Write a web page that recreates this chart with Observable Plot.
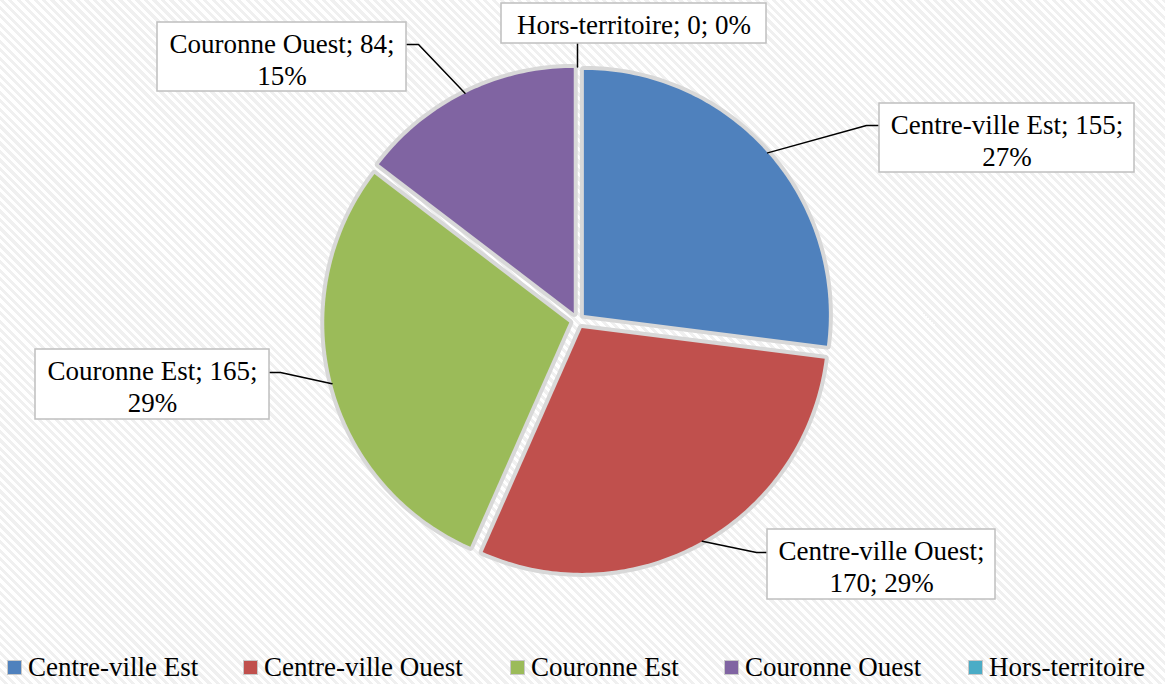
<!DOCTYPE html>
<html><head><meta charset="utf-8">
<script src="https://cdn.jsdelivr.net/npm/d3@7"></script>
<script src="https://cdn.jsdelivr.net/npm/@observablehq/plot@0.6"></script>
<style>
html,body{margin:0;padding:0;}
body{width:1165px;height:684px;overflow:hidden;position:relative;
background: repeating-linear-gradient(45deg,#ffffff 0px,#ffffff 3px,#f0f0f0 3px,#f0f0f0 6px);
font-family:"Liberation Serif",serif;}
#chart{position:absolute;left:0;top:0;}
#legend{position:absolute;left:0;top:645px;width:1165px;height:39px;}
.sw{position:absolute;top:15px;width:13px;height:13px;border:1px solid #c8c8c8;box-sizing:content-box;}
.lt{position:absolute;top:9px;font-size:27px;line-height:1;color:#000;white-space:nowrap;}
</style></head><body><div id="chart"></div><div id="legend"></div>
<script>
// ---- data ----
const categories = ["Centre-ville Est", "Centre-ville Ouest", "Couronne Est", "Couronne Ouest", "Hors-territoire"];
const values = [155, 170, 165, 84, 0];
const percentLabels = ["27%", "29%", "29%", "15%", "0%"];
const colors = ["#4F81BD", "#C0504D", "#9BBB59", "#8064A2", "#4BACC6"];

// ---- layout ----
const W = 1165, H = 645;
const pieCenter = [577, 320], radius = 245, explode = 8.5;
const labelLayout = [
  {box: [879, 103, 1134, 172], knee: [866, 125], split: 2},
  {box: [767, 529, 995, 599], knee: [756, 552], split: 1},
  {box: [35, 349, 269, 419], knee: [280, 372], split: 2},
  {box: [157, 22, 406, 91], knee: [418, 44], split: 2},
  {box: [501, 3, 766, 43], knee: null, split: 3}
];
const legendX = [7, 243, 510, 724, 968];

// ---- geometry from values ----
const arcs = d3.pie().sort(null).value(d => d)(values);
const slicePoints = [];
const leaderPoints = [];
const boxes = [];
const labels = [];
arcs.forEach((p, i) => {
  const name = categories[i];
  const mid = (p.startAngle + p.endAngle) / 2;
  const ox = pieCenter[0] + explode * Math.sin(mid);
  const oy = pieCenter[1] - explode * Math.cos(mid);
  const span = p.endAngle - p.startAngle;
  if (span > 0) {
    slicePoints.push({name, x: ox, y: oy});
    const n = Math.max(2, Math.ceil(span / (Math.PI / 180)));
    for (let k = 0; k <= n; k++) {
      const a = p.startAngle + span * k / n;
      slicePoints.push({name, x: ox + radius * Math.sin(a), y: oy - radius * Math.cos(a)});
    }
  }
  const L = labelLayout[i];
  const ax = ox + radius * Math.sin(mid), ay = oy - radius * Math.cos(mid);
  leaderPoints.push({name, x: ax, y: ay});
  if (L.knee) {
    leaderPoints.push({name, x: L.knee[0], y: L.knee[1]});
    const edgeX = L.knee[0] < L.box[0] ? L.box[0] : L.box[2];
    leaderPoints.push({name, x: edgeX, y: L.knee[1]});
  } else {
    leaderPoints.push({name, x: ax, y: L.box[3]});
  }
  boxes.push({name, x1: L.box[0], y1: L.box[1], x2: L.box[2], y2: L.box[3]});
  const parts = [name, String(values[i]), percentLabels[i]];
  let text;
  if (L.split >= 3) text = parts.join("; ");
  else text = parts.slice(0, L.split).join("; ") + ";\n" + parts.slice(L.split).join("; ");
  const nLines = text.split("\n").length;
  labels.push({name, text, x: (L.box[0] + L.box[2]) / 2, y: L.box[1] + 30 + 32 * (nLines - 1)});
});

const chart = Plot.plot({
  width: W, height: H, margin: 0,
  x: {domain: [0, W], range: [0, W], axis: null},
  y: {domain: [0, H], range: [0, H], axis: null},
  color: {domain: categories, range: colors},
  style: {background: "transparent", overflow: "visible"},
  marks: [
    Plot.line(slicePoints, {x: "x", y: "y", z: "name", curve: "linear-closed",
      fill: "#d8d8d8", stroke: "#d8d8d8", strokeWidth: 8, strokeLinejoin: "round"}),
    Plot.line(slicePoints, {x: "x", y: "y", z: "name", curve: "linear-closed",
      fill: "name", stroke: null}),
    Plot.line(leaderPoints, {x: "x", y: "y", z: "name", stroke: "#000", strokeWidth: 1.5}),
    Plot.rect(boxes, {x1: "x1", x2: "x2", y1: "y1", y2: "y2", fill: "#fff", stroke: "#bfbfbf", strokeWidth: 1.5}),
    Plot.text(labels, {x: "x", y: "y", text: "text", lineAnchor: "bottom", lineHeight: 32 / 27,
      fontSize: 27, fontFamily: "Liberation Serif", fill: "#000", textAnchor: "middle"})
  ]
});
document.getElementById("chart").appendChild(chart);

const legend = document.getElementById("legend");
categories.forEach((c, i) => {
  const sw = document.createElement("div");
  sw.className = "sw"; sw.style.left = legendX[i] + "px"; sw.style.background = colors[i];
  legend.appendChild(sw);
  const t = document.createElement("div");
  t.className = "lt"; t.style.left = (legendX[i] + 21) + "px"; t.textContent = c;
  legend.appendChild(t);
});
</script></body></html>
